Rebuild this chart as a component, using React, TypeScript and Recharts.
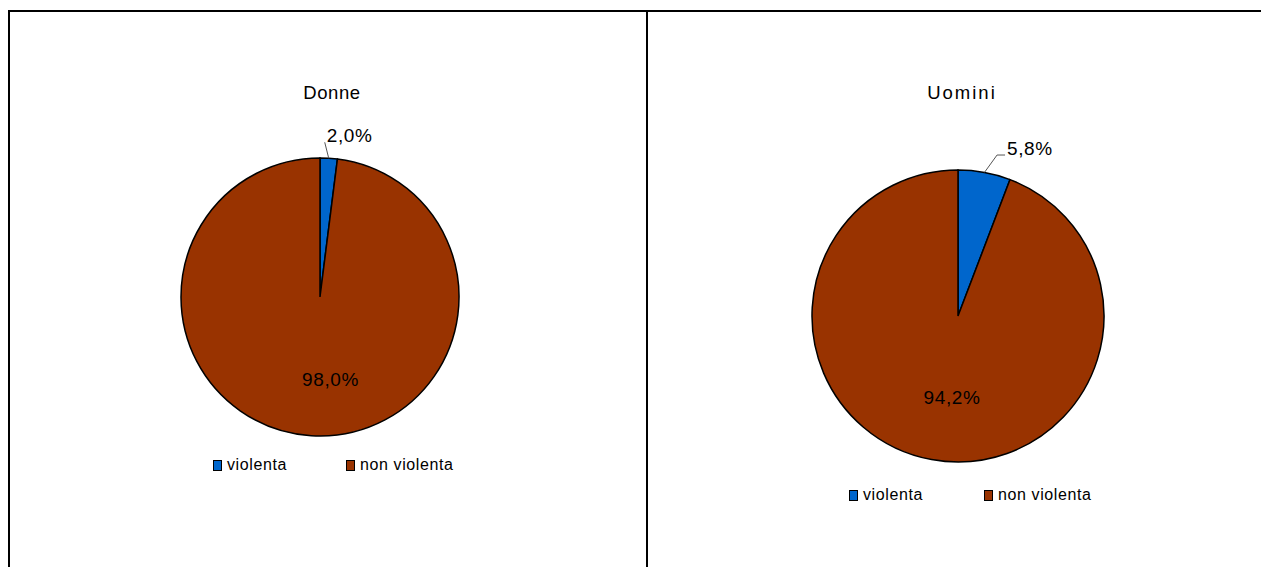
import React from 'react';
import { PieChart, Pie, Cell, Legend, Customized } from 'recharts';

const categories = ['violenta', 'non violenta'];
const donneValues = [2.0, 98.0];
const uominiValues = [5.8, 94.2];
const chartTitles = ['Donne', 'Uomini'];
const sliceColors = ['#0066CC', '#993300'];

const FONT = '"Liberation Sans", Arial, sans-serif';
const RAD = Math.PI / 180;
const fmt = (v: number) => v.toFixed(1).replace('.', ',') + '%';

const layouts = [
  {
    left: 0, width: 646, cx: 320, cy: 297, r: 139,
    titleX: 332, titleY: 99, titleSpacing: 0.6,
    legendLeft: 213, legendTop: 457, legendGap: 133,
    leader: { dx: -4, dy: -16, tail: 0 },
    inner: { dx: 10.5, dy: 88.7 },
  },
  {
    left: 648, width: 613, cx: 310, cy: 316, r: 146,
    titleX: 314, titleY: 99, titleSpacing: 2,
    legendLeft: 201, legendTop: 487, legendGap: 135,
    leader: { dx: 12.6, dy: -17.4, tail: 8 },
    inner: { dx: -6, dy: 87.7 },
  },
];

function OnePie({ values, title, lay }: { values: number[]; title: string; lay: typeof layouts[0] }) {
  const data = categories.map((c, i) => ({ name: c, value: values[i] }));

  const renderLabel = (p: any) => {
    const { cx, cy, midAngle, outerRadius, index, value } = p;
    if (index === 0) {
      const ex = cx + outerRadius * Math.cos(-midAngle * RAD);
      const ey = cy + outerRadius * Math.sin(-midAngle * RAD);
      const mx = ex + lay.leader.dx;
      const my = ey + lay.leader.dy;
      const tx = mx + lay.leader.tail;
      return (
        <g>
          <polyline points={`${ex},${ey} ${mx},${my} ${tx},${my}`} fill="none" stroke="#555" strokeWidth={1} />
          <text x={tx + 2} y={my} fontSize={19} fontFamily={FONT} fill="#000" letterSpacing={0.6} textAnchor="start">
            {fmt(value)}
          </text>
        </g>
      );
    }
    return (
      <text x={cx + lay.inner.dx} y={cy + lay.inner.dy} fontSize={19} fontFamily={FONT} fill="#000" letterSpacing={0.6} textAnchor="middle">
        {fmt(value)}
      </text>
    );
  };

  const legendContent = () => (
    <div style={{ display: 'flex', fontFamily: FONT, fontSize: 16, lineHeight: '16px', color: '#000', letterSpacing: 0.6 }}>
      {categories.map((c, i) => (
        <div key={c} style={{ display: 'flex', alignItems: 'center', width: lay.legendGap, whiteSpace: 'nowrap' }}>
          <span style={{ display: 'inline-block', width: 9, height: 11, boxSizing: 'border-box', border: '1px solid #000', background: sliceColors[i], marginRight: 5 }} />
          <span>{c}</span>
        </div>
      ))}
    </div>
  );

  return (
    <div style={{ position: 'absolute', left: lay.left, top: 0 }}>
      <PieChart width={lay.width} height={567} margin={{ top: 0, right: 0, bottom: 0, left: 0 }}>
        <Customized
          component={() => (
            <text x={lay.titleX} y={lay.titleY} textAnchor="middle" fontSize={18.5} fontFamily={FONT} fill="#000" letterSpacing={lay.titleSpacing}>
              {title}
            </text>
          )}
        />
        <Pie
          data={data}
          dataKey="value"
          nameKey="name"
          cx={lay.cx}
          cy={lay.cy}
          outerRadius={lay.r}
          startAngle={90}
          endAngle={-270}
          stroke="#000"
          strokeWidth={1.5}
          label={renderLabel}
          labelLine={false}
          isAnimationActive={false}
        >
          {data.map((d, i) => (
            <Cell key={d.name} fill={sliceColors[i]} />
          ))}
        </Pie>
        <Legend
          content={legendContent}
          wrapperStyle={{ position: 'absolute', left: lay.legendLeft, top: lay.legendTop, width: 'auto', bottom: 'auto' }}
        />
      </PieChart>
    </div>
  );
}

export default function App() {
  return (
    <div style={{ position: 'absolute', left: 0, top: 0, width: 1261, height: 567, background: '#fff', overflow: 'hidden' }}>
      <OnePie values={donneValues} title={chartTitles[0]} lay={layouts[0]} />
      <OnePie values={uominiValues} title={chartTitles[1]} lay={layouts[1]} />
      <div style={{ position: 'absolute', left: 8, top: 10, width: 1253, height: 2, background: '#000' }} />
      <div style={{ position: 'absolute', left: 8, top: 10, width: 2, height: 557, background: '#000' }} />
      <div style={{ position: 'absolute', left: 646, top: 10, width: 2, height: 557, background: '#000' }} />
    </div>
  );
}
